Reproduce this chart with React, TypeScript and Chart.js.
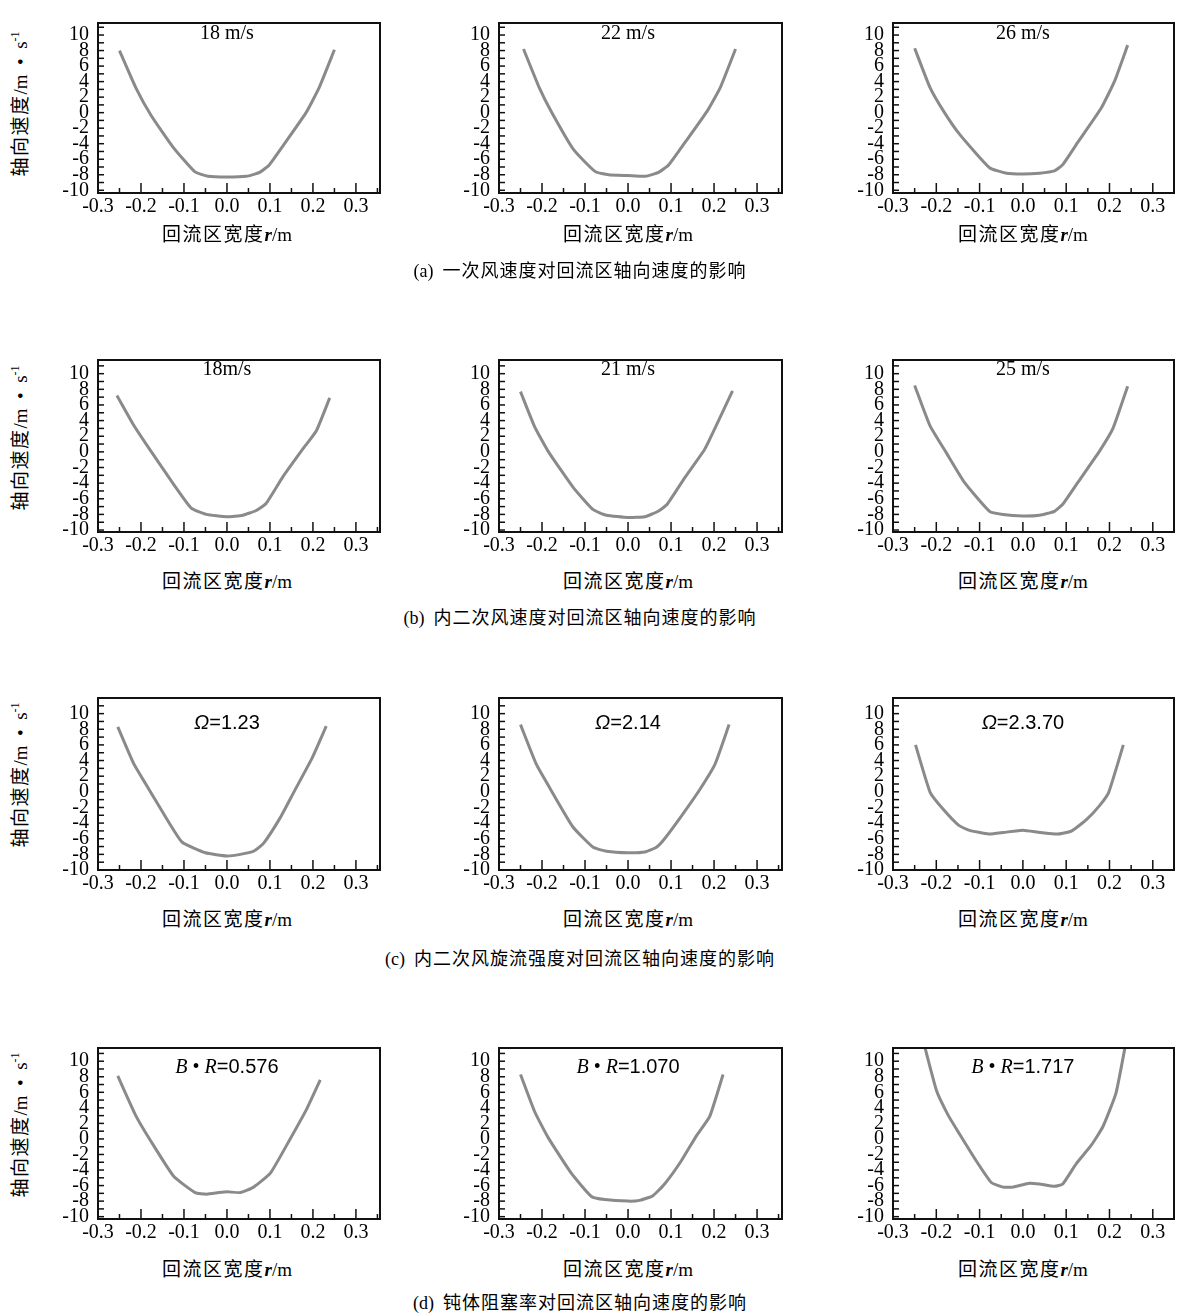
import React, { useEffect, useRef } from "react";
import { Chart, registerables } from "chart.js";

Chart.register(...registerables);

// ---------- tick labels ----------
const xTickValues = [-0.3, -0.2, -0.1, 0, 0.1, 0.2, 0.3];
const yTickValues = [-10, -8, -6, -4, -2, 0, 2, 4, 6, 8, 10];

// ---------- data: radial position r (m) and axial velocity (m/s) ----------
// (a) primary air speed
const a1R = [-0.25, -0.211, -0.176, -0.126, -0.075, -0.044, 0, 0.045, 0.076, 0.099, 0.13, 0.184, 0.215, 0.25];
const a1V = [8.0, 3.1, -0.4, -4.4, -7.6, -8.2, -8.3, -8.2, -7.7, -6.7, -4.3, 0, 3.3, 8.1];
const a2R = [-0.243, -0.207, -0.177, -0.126, -0.076, -0.045, 0, 0.04, 0.071, 0.095, 0.133, 0.184, 0.215, 0.25];
const a2V = [8.2, 3.3, 0, -4.8, -7.6, -8.0, -8.1, -8.2, -7.7, -6.7, -3.8, 0.2, 3.3, 8.2];
const a3R = [-0.25, -0.215, -0.181, -0.146, -0.077, -0.038, 0, 0.038, 0.073, 0.092, 0.127, 0.181, 0.212, 0.242];
const a3V = [8.3, 3.3, 0, -2.8, -7.1, -7.8, -7.9, -7.8, -7.5, -6.7, -3.8, 0.6, 4.1, 8.7];

// (b) inner secondary air speed
const b1R = [-0.256, -0.219, -0.188, -0.126, -0.083, -0.048, 0, 0.037, 0.068, 0.091, 0.13, 0.177, 0.208, 0.239];
const b1V = [7.2, 3.6, 1.0, -4.0, -7.2, -8.0, -8.3, -8.1, -7.5, -6.6, -3.2, 0.4, 2.7, 6.9];
const b2R = [-0.25, -0.217, -0.186, -0.128, -0.081, -0.05, 0, 0.039, 0.07, 0.091, 0.132, 0.178, 0.202, 0.243];
const b2V = [7.7, 3.2, 0.1, -4.5, -7.4, -8.1, -8.4, -8.3, -7.6, -6.7, -3.3, 0.3, 3.0, 7.8];
const b3R = [-0.25, -0.215, -0.177, -0.135, -0.077, -0.046, 0, 0.038, 0.073, 0.092, 0.127, 0.177, 0.208, 0.242];
const b3V = [8.5, 3.4, -0.1, -3.9, -7.6, -8.0, -8.2, -8.1, -7.6, -6.7, -3.9, 0.1, 3.0, 8.4];

// (c) inner secondary swirl strength
const c1R = [-0.254, -0.217, -0.19, -0.155, -0.105, -0.05, 0, 0.031, 0.062, 0.085, 0.124, 0.155, 0.198, 0.231];
const c1V = [8.3, 3.6, 1.1, -2.1, -6.4, -7.8, -8.2, -8.0, -7.6, -6.6, -3.3, -0.1, 4.3, 8.4];
const c2R = [-0.25, -0.213, -0.182, -0.128, -0.081, -0.05, 0, 0.039, 0.066, 0.085, 0.124, 0.167, 0.202, 0.235];
const c2V = [8.6, 3.5, 0.5, -4.5, -7.1, -7.6, -7.8, -7.7, -7.1, -6.0, -3.1, 0.3, 3.5, 8.6];
const c3R = [-0.248, -0.214, -0.183, -0.148, -0.125, -0.079, -0.045, 0, 0.04, 0.082, 0.113, 0.148, 0.178, 0.198, 0.232];
const c3V = [6.0, -0.1, -2.3, -4.3, -4.9, -5.4, -5.2, -4.9, -5.2, -5.4, -5.0, -3.5, -1.7, -0.1, 6.0];

// (d) bluff body blockage ratio
const d1R = [-0.254, -0.213, -0.178, -0.124, -0.074, -0.047, -0.019, 0, 0.031, 0.062, 0.101, 0.147, 0.186, 0.217];
const d1V = [8.1, 3.1, -0.2, -4.8, -6.9, -7.1, -6.9, -6.8, -6.9, -6.2, -4.4, 0, 3.9, 7.6];
const d2R = [-0.25, -0.217, -0.186, -0.132, -0.085, -0.054, 0, 0.027, 0.058, 0.085, 0.124, 0.159, 0.19, 0.221];
const d2V = [8.3, 3.5, 0.2, -4.4, -7.4, -7.8, -8.0, -7.9, -7.3, -5.8, -2.8, 0.4, 2.9, 8.3];
const d3R = [-0.232, -0.2, -0.173, -0.146, -0.108, -0.073, -0.046, -0.023, 0.015, 0.038, 0.073, 0.092, 0.123, 0.158, 0.185, 0.215, 0.24];
const d3V = [13, 6.3, 3.1, 0.6, -2.8, -5.6, -6.2, -6.2, -5.7, -5.8, -6.1, -5.8, -3.2, -0.8, 1.6, 5.9, 13];

// ---------- texts ----------
const captions = [
  "一次风速度对回流区轴向速度的影响",
  "内二次风速度对回流区轴向速度的影响",
  "内二次风旋流强度对回流区轴向速度的影响",
  "钝体阻塞率对回流区轴向速度的影响",
];
const captionTags = ["(a)", "(b)", "(c)", "(d)"];

// ---------- layout ----------
const SERIF = '"Liberation Serif", "Times New Roman", serif';
const SANS = '"Liberation Sans", Arial, sans-serif';
const CJK = '"Noto Sans CJK SC", sans-serif';

const rows = [
  { top: 10, h: 183, yMin: -10.35, yMax: 11.55, titleY: 233, labelY: 32, yTitleY: 104, capY: 270 },
  { top: 347, h: 185, yMin: -10.25, yMax: 11.75, titleY: 580, labelY: 368, yTitleY: 438, capY: 617 },
  { top: 685, h: 185, yMin: -10.0, yMax: 12.0, titleY: 918, labelY: 722, yTitleY: 775, capY: 958 },
  { top: 1035, h: 184, yMin: -10.3, yMax: 11.7, titleY: 1268, labelY: 1066, yTitleY: 1125, capY: 1302 },
];
const cols = [
  { left: 98, w: 282, xMax: 0.356 },
  { left: 499, w: 283, xMax: 0.358 },
  { left: 893, w: 281, xMax: 0.349 },
];

const YW = 62;
const PR = 8;
const PT = 6;
const XH = 30;

type LabelKind = { kind: "speed"; text: string } | { kind: "omega"; text: string } | { kind: "br"; text: string };

const panels: { row: number; col: number; r: number[]; v: number[]; label: LabelKind }[] = [
  { row: 0, col: 0, r: a1R, v: a1V, label: { kind: "speed", text: "18 m/s" } },
  { row: 0, col: 1, r: a2R, v: a2V, label: { kind: "speed", text: "22 m/s" } },
  { row: 0, col: 2, r: a3R, v: a3V, label: { kind: "speed", text: "26 m/s" } },
  { row: 1, col: 0, r: b1R, v: b1V, label: { kind: "speed", text: "18m/s" } },
  { row: 1, col: 1, r: b2R, v: b2V, label: { kind: "speed", text: "21 m/s" } },
  { row: 1, col: 2, r: b3R, v: b3V, label: { kind: "speed", text: "25 m/s" } },
  { row: 2, col: 0, r: c1R, v: c1V, label: { kind: "omega", text: "=1.23" } },
  { row: 2, col: 1, r: c2R, v: c2V, label: { kind: "omega", text: "=2.14" } },
  { row: 2, col: 2, r: c3R, v: c3V, label: { kind: "omega", text: "=2.3.70" } },
  { row: 3, col: 0, r: d1R, v: d1V, label: { kind: "br", text: "=0.576" } },
  { row: 3, col: 1, r: d2R, v: d2V, label: { kind: "br", text: "=1.070" } },
  { row: 3, col: 2, r: d3R, v: d3V, label: { kind: "br", text: "=1.717" } },
];

const framePlugin = {
  id: "frameTicks",
  afterDraw(chart: any) {
    const { ctx, chartArea, scales } = chart;
    const { left, right, top, bottom } = chartArea;
    const x = scales.x;
    const y = scales.y;
    ctx.save();
    ctx.strokeStyle = "#111";
    ctx.lineWidth = 1.5;
    for (let v = -10; v <= 12; v++) {
      const py = y.getPixelForValue(v);
      if (py < top + 1 || py > bottom - 1) continue;
      ctx.beginPath();
      ctx.moveTo(left, py);
      ctx.lineTo(left + 6, py);
      ctx.stroke();
    }
    for (let i = -6; i <= 7; i++) {
      const v = i * 0.05;
      const px = x.getPixelForValue(v);
      if (px < left + 1 || px > right - 1) continue;
      const len = i % 2 === 0 ? 10 : 5;
      ctx.beginPath();
      ctx.moveTo(px, bottom);
      ctx.lineTo(px, bottom - len);
      ctx.stroke();
    }
    ctx.lineWidth = 2;
    ctx.strokeRect(left, top, right - left, bottom - top);
    ctx.restore();
  },
};

function Panel({ p }: { p: (typeof panels)[number] }) {
  const ref = useRef<HTMLCanvasElement | null>(null);
  const row = rows[p.row];
  const col = cols[p.col];
  const W = YW + col.w + PR;
  const H = PT + row.h + XH;

  useEffect(() => {
    if (!ref.current) return;
    const chart = new Chart(ref.current, {
      type: "line",
      data: {
        datasets: [
          {
            data: p.r.map((r, i) => ({ x: r, y: p.v[i] })),
            borderColor: "#8a8a8a",
            borderWidth: 3,
            pointRadius: 0,
            tension: 0.15,
            fill: false,
            clip: 0,
          } as any,
        ],
      },
      options: {
        responsive: false,
        animation: false,
        events: [],
        layout: { padding: { left: 0, right: PR, top: PT, bottom: 0 } },
        plugins: { legend: { display: false }, tooltip: { enabled: false } },
        scales: {
          x: {
            type: "linear",
            min: -0.3,
            max: col.xMax,
            grid: { display: false, drawTicks: false },
            border: { display: false },
            afterBuildTicks: (s: any) => {
              s.ticks = xTickValues.map((v) => ({ value: v }));
            },
            afterFit: (s: any) => {
              s.height = XH;
            },
            ticks: {
              autoSkip: false,
              maxRotation: 0,
              padding: 2,
              color: "#000",
              font: { family: SERIF, size: 20 },
              callback: (v: any) => Number(v).toFixed(1),
            },
          },
          y: {
            type: "linear",
            min: row.yMin,
            max: row.yMax,
            grid: { display: false, drawTicks: false },
            border: { display: false },
            afterBuildTicks: (s: any) => {
              s.ticks = yTickValues.map((v) => ({ value: v }));
            },
            afterFit: (s: any) => {
              s.width = YW;
            },
            ticks: {
              autoSkip: false,
              padding: 9,
              color: "#000",
              font: { family: SERIF, size: 20, lineHeight: 1 },
              callback: (v: any) => String(v),
            },
          },
        },
      },
      plugins: [framePlugin],
    });
    return () => chart.destroy();
  }, []);

  const zeroX = col.left + (0.3 / (col.xMax + 0.3)) * col.w;

  let labelContent: React.ReactNode;
  if (p.label.kind === "speed") {
    labelContent = <span style={{ fontFamily: SERIF }}>{p.label.text}</span>;
  } else if (p.label.kind === "omega") {
    labelContent = (
      <span style={{ fontFamily: SANS }}>
        <i>Ω</i>
        {p.label.text}
      </span>
    );
  } else {
    labelContent = (
      <span>
        <i style={{ fontFamily: SERIF }}>B</i>
        <span style={{ fontFamily: SERIF }}> • </span>
        <i style={{ fontFamily: SERIF }}>R</i>
        <span style={{ fontFamily: SANS }}>{p.label.text}</span>
      </span>
    );
  }

  return (
    <>
      <canvas
        ref={ref}
        width={W}
        height={H}
        style={{ position: "absolute", left: col.left - YW, top: row.top - PT, width: W, height: H }}
      />
      <div
        style={{
          position: "absolute",
          left: zeroX,
          top: row.labelY,
          transform: "translate(-50%, -50%)",
          fontSize: 20,
          whiteSpace: "nowrap",
          color: "#000",
          lineHeight: 1,
        }}
      >
        {labelContent}
      </div>
      <div
        style={{
          position: "absolute",
          left: zeroX,
          top: row.titleY,
          transform: "translate(-50%, -50%)",
          fontSize: 19,
          whiteSpace: "nowrap",
          color: "#000",
          lineHeight: 1,
        }}
      >
        <span style={{ fontFamily: CJK, letterSpacing: 1.5 }}>回流区宽度</span>
        <b style={{ fontFamily: SERIF }}>
          <i>r</i>
        </b>
        <span style={{ fontFamily: SERIF }}>/m</span>
      </div>
      {p.col === 0 && (
        <div
          style={{
            position: "absolute",
            left: 19,
            top: row.yTitleY,
            transform: "translate(-50%, -50%) rotate(-90deg)",
            fontSize: 19,
            whiteSpace: "nowrap",
            color: "#000",
            lineHeight: 1,
          }}
        >
          <span style={{ fontFamily: CJK, letterSpacing: 1.5 }}>轴向速度</span>
          <span style={{ fontFamily: SERIF }}>
            /m&nbsp;&nbsp;•&nbsp;&nbsp;s<sup style={{ fontSize: 12 }}>-1</sup>
          </span>
        </div>
      )}
    </>
  );
}

export default function App() {
  return (
    <div style={{ position: "absolute", left: 0, top: 0, width: 1181, height: 1316, background: "#fff" }}>
      {panels.map((p, i) => (
        <Panel key={i} p={p} />
      ))}
      {rows.map((row, i) => (
        <div
          key={"cap" + i}
          style={{
            position: "absolute",
            left: 580,
            top: row.capY,
            transform: "translate(-50%, -50%)",
            fontSize: 18,
            whiteSpace: "nowrap",
            color: "#000",
            lineHeight: 1,
          }}
        >
          <span style={{ fontFamily: SERIF }}>{captionTags[i]}</span>
          <span style={{ fontFamily: CJK, marginLeft: 9, letterSpacing: 1 }}>{captions[i]}</span>
        </div>
      ))}
    </div>
  );
}
